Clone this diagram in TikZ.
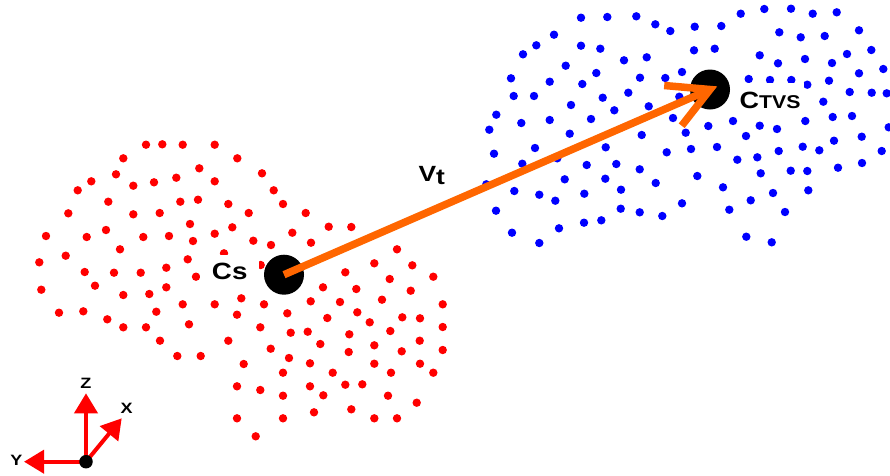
\documentclass[tikz,border=0pt]{standalone}
\usepackage{fontspec}
\usepackage{graphicx}
\setmainfont{Liberation Sans}
\usetikzlibrary{arrows.meta,calc}
\definecolor{ptred}{RGB}{255,0,0}
\definecolor{ptblue}{RGB}{0,0,255}
\definecolor{vecorange}{RGB}{255,102,0}
\begin{document}
\begin{tikzpicture}[x=1pt,y=-1pt,
  reddot/.style={fill=ptred},
  bluedot/.style={fill=ptblue},
  centroid/.style={circle,fill=black,minimum size=40pt,inner sep=0pt},
  lbl/.style={font=\bfseries\fontsize{23.5}{23.5}\selectfont,fill=white,text=black},
  vec/.style={draw=vecorange,line width=7.5pt},
  axisarrow/.style={draw=ptred,line width=4pt,-{Triangle[length=20pt,width=23pt]}},
  axlbl/.style={font=\bfseries\fontsize{15}{15}\selectfont,inner sep=0pt}]
\useasboundingbox (0,0) rectangle (890,475);

% red cloud
\foreach \px/\py in {146.0/144.7,162.3/144.3,182.7/144.7,214.7/144.7,123.3/158.3,237.3/158.3,199.3/168.3,116/174.3,176.3/177.7,262/173.3,
91.3/181.3,133.3/185.7,154/182.3,214.7/181.3,77.7/190.3,273.7/190.3,108.3/201.7,180.3/201.7,198/199.7,228.3/204,283/204,
68.3/213.3,133.3/214.3,159.7/213,248.7/213,305.7/213,190/224,232.3/227.3,328.7/226.7,351.3/227,
46/236,106/230,86.7/237,143.3/237,169/236,193/241,214.7/233.7,253.3/240.7,292.3/232.7,271/245,311/242.7,
120/249.3,397/249.3,39.3/262.3,65.7/255.7,187.7/259.3,224/253.3,84.7/272,114/272.7,140.7/272.7,166.3/267.7,196/276.7,260.7/265,
345.3/272.3,374.3/263.3,412.3/265.3,433.3/276.7,389.7/279,41.3/289.7,95/285.7,123.3/295,149.3/294,166.3/287.3,323/287.3,356.3/289,410.7/290.7,
59/312.7,83.3/311.3,156.3/311.7,182.7/304.3,214.7/304.3,241.3/298.3,264/304.3,287.3/313.3,310.7/301.3,340/302,382/299.7,442.7/304.3,
107.3/319.3,123.3/327.3,146/327.3,189/324.3,237/314.7,260.3/327.3,327.3/318,357.3/312.3,369.7/322.3,402.3/317.3,420/318.3,442.7/327,
160/340.7,228.3/340.7,290.7/332.7,307.7/331.7,320.3/344,349.3/334.3,390.3/331,419.7/340.7,442.7/350,
177.3/356,200.7/356,270.7/348.7,289/358,348.7/352,374.3/345.3,401.7/351.3,
243.7/364,310/363.3,374.3/363.7,420/363.7,283/372.7,332.7/372.7,391/372.7,433.3/372.7,
237/386.3,260.3/390,283/395.7,310/386.3,323.3/395.3,345.3/384.7,362.3/384.3,388/395.7,416.7/402.7,
237/418.3,283/418.3,314/412.3,351.3/409.3,374.3/418.3,397/418.3,255.7/436.3}
  \fill[reddot] (\px,\py) circle[radius=4.2pt];

% blue cloud
\foreach \px/\py in {581/17.7,607.3/17,636.3/16.3,655.3/24.3,670.3/31,694.7/26.7,721.3/26,740.7/13.7,764.3/9,791/8.7,812.7/13.7,836.7/12.3,
554/34.7,779.3/32.3,800.7/37.3,824.7/36,859/30.3,536.3/45.3,581/45.7,600.3/48.7,694/50.3,714.7/48.7,871.3/50,847/54,
523/54.3,624/60.3,646.7/57.3,759.7/55.3,805/59,778/63.3,832/63,565.7/65.7,596.3/73,682/72,883.3/69,859/73.3,
511/78.3,549.7/81.7,582.3/84,640/77.7,665.3/78,829/80.7,807.3/84.7,748.7/79,770/80,791.3/80,
513.7/96,534/96,602.7/97.7,628.3/92.7,679.3/96.7,849.7/92,871.7/92.7,886.7/93.3,571/105,614.3/110.3,648.7/106.3,823.3/101.7,
496.3/114.7,521.3/123,549.7/120,591/119,673/118,708.3/126,733/121,759.7/125.7,777/129,805.3/121,832.7/117,852/116,
489.3/129.7,569.7/133.7,641.7/135,685.7/132.7,746/136,888.7/127.3,
494/153.7,535/148,605.7/147.3,666.7/152.3,691/149,717/147,778.7/151,802.7/146.7,819.3/150.3,834/140.7,861.7/136.7,881.7/151,
522.3/163.7,557.3/158.3,586.7/165,616.3/164,639.7/169.3,737.3/159.7,757.3/157.3,838/167.7,862/163,
486.3/184.3,514.3/191,539.3/194.7,564.7/179.3,555.3/200.7,584.3/193.7,605.3/178.7,621/189.7,655.7/183,697.3/176,723/187.3,760.7/173.3,790.7/170.7,807.3/171,773/193,808.3/190.3,
496/210.7,620.7/208.7,639.7/212.3,662.3/216,682/203.3,729.3/209.7,750.7/200.3,785/212,
512/232.7,539.3/243,559/228.3,584/222.7,601.3/220.3,746.3/236.7,771.7/242.3}
  \fill[bluedot] (\px,\py) circle[radius=4.2pt];

% centroids
\node[centroid] (cs) at (284,274.7) {};
\node[centroid] (ctvs) at (710,89.5) {};

% labels
\node[lbl,inner xsep=12pt,inner ysep=8pt] (cslbl) at (229.7,271.5) {\scalebox{1.18}[1]{Cs}};
\node[lbl,inner xsep=4pt,inner ysep=9pt] (ctvslbl) at (770,100) {\scalebox{1.15}[1]{C{\fontsize{18.5}{18.5}\selectfont TVS}}};
\node[font=\bfseries\fontsize{22}{22}\selectfont,inner sep=0pt] (vtlbl) at (431.7,175.5) {\scalebox{1.2}[1]{V\raisebox{-2.7pt}{t}}};

% translation vector
\draw[vec] (cs.center) -- (ctvs.center);
\draw[vec,line join=miter] ($(ctvs.center)!46pt!28.5:(cs.center)$) -- (ctvs.center) -- ($(ctvs.center)!46pt!-28.5:(cs.center)$);

% axes
\coordinate (orig) at (86,461.7);
\coordinate (zt) at (86,393.3);
\coordinate (xt) at (121.7,418.3);
\coordinate (yt) at (24,461.7);
\draw[axisarrow] (orig) -- (zt);
\draw[axisarrow] (orig) -- (xt);
\draw[axisarrow] (orig) -- (yt);
\node[circle,fill=black,minimum size=13.5pt,inner sep=0pt] (origdot) at (orig) {};
\node[axlbl] (zlbl) at (85.8,383.3) {\scalebox{1.2}[1]{Z}};
\node[axlbl] (xlbl) at (126.7,408.3) {\scalebox{1.2}[1]{X}};
\node[axlbl] (ylbl) at (16.3,460.5) {\scalebox{1.2}[1]{Y}};
\end{tikzpicture}
\end{document}
